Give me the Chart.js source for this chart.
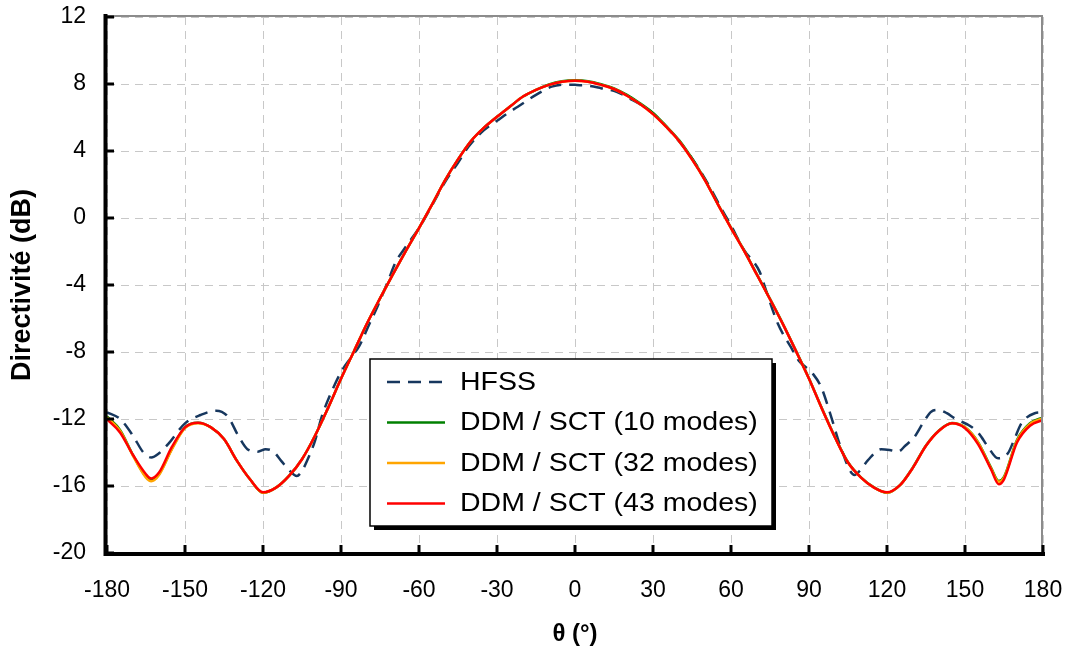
<!DOCTYPE html>
<html>
<head>
<meta charset="utf-8">
<script src="https://cdn.jsdelivr.net/npm/chart.js@4.4.1/dist/chart.umd.min.js"></script>
<style>
  html, body { margin: 0; padding: 0; background: #fff; }
  #wrap { position: relative; width: 1069px; height: 652px; }
</style>
</head>
<body>
<div id="wrap"><canvas id="chart"></canvas></div>
<script>
// angles (deg) for the DDM / SCT curves
var thetaSim = [-180, -175, -170, -165, -163, -160, -155, -150, -145, -140, -135, -130, -125, -120, -115, -110, -105, -100, -95, -90,
  -85, -80, -75, -70, -65, -60, -55, -50, -45, -40, -35, -30, -25, -20, -15, -10, -5, 0,
  5, 10, 15, 20, 25, 30, 35, 40, 45, 50, 55, 60, 65, 70, 75, 80, 85, 90,
  95, 100, 105, 110, 115, 120, 125, 130, 135, 140, 145, 150, 155, 160, 163, 165, 170, 175, 180];

var ddm10 = [-11.85, -12.65, -14.15, -15.45, -15.65, -15.3, -13.75, -12.5, -12.22, -12.5, -13.2, -14.5, -15.6, -16.4, -16.1, -15.4, -14.4, -13.0, -11.35, -9.6,
  -7.95, -6.3, -4.8, -3.35, -1.95, -0.6, 0.8, 2.25, 3.5, 4.6, 5.4, 6.05, 6.65, 7.25, 7.65, 7.97, 8.16, 8.22,
  8.17, 7.99, 7.74, 7.35, 6.85, 6.27, 5.5, 4.65, 3.55, 2.28, 0.82, -0.58, -1.93, -3.38, -4.83, -6.33, -7.93, -9.58,
  -11.38, -13.08, -14.58, -15.48, -16.08, -16.4, -15.95, -14.88, -13.58, -12.68, -12.24, -12.5, -13.38, -14.9, -15.7, -15.45, -13.25, -12.25, -11.9];

var ddm32 = [-11.9, -12.7, -14.2, -15.5, -15.72, -15.35, -13.8, -12.55, -12.25, -12.5, -13.2, -14.5, -15.6, -16.4, -16.1, -15.4, -14.4, -13.0, -11.35, -9.6,
  -7.95, -6.3, -4.8, -3.35, -1.95, -0.6, 0.8, 2.25, 3.5, 4.6, 5.4, 6.05, 6.65, 7.25, 7.65, 7.95, 8.14, 8.2,
  8.14, 7.95, 7.7, 7.3, 6.8, 6.2, 5.45, 4.6, 3.5, 2.25, 0.8, -0.6, -1.95, -3.4, -4.85, -6.35, -7.95, -9.6,
  -11.4, -13.1, -14.6, -15.5, -16.1, -16.4, -15.95, -14.9, -13.6, -12.7, -12.25, -12.5, -13.4, -14.95, -15.75, -15.5, -13.3, -12.3, -11.95];

var ddm43 = [-12.02, -12.8, -14.15, -15.3, -15.55, -15.2, -13.65, -12.5, -12.22, -12.5, -13.2, -14.5, -15.6, -16.38, -16.1, -15.4, -14.4, -13.0, -11.35, -9.6,
  -7.95, -6.3, -4.8, -3.35, -1.95, -0.6, 0.8, 2.25, 3.5, 4.6, 5.4, 6.05, 6.65, 7.25, 7.65, 7.95, 8.14, 8.2,
  8.14, 7.95, 7.7, 7.3, 6.8, 6.2, 5.45, 4.6, 3.5, 2.25, 0.8, -0.6, -1.95, -3.4, -4.85, -6.35, -7.95, -9.6,
  -11.4, -13.1, -14.6, -15.5, -16.1, -16.38, -15.95, -14.9, -13.6, -12.7, -12.26, -12.55, -13.5, -15.0, -15.9, -15.6, -13.4, -12.4, -12.06];

// HFSS reference
var thetaHfss = [-180, -175, -170, -166, -163, -160, -156.5, -150, -144, -138, -133.5, -129.5, -126, -122, -119, -116, -113, -110, -107, -105,
  -102.5, -100, -97.5, -94, -90, -86, -83, -79, -76, -72, -69, -65, -60, -55, -50, -45, -41, -35, -30, -26, -22, -15, -9, -4, 0,
  5, 10, 16, 22, 26, 30, 36, 42, 47, 52, 56, 60, 65, 71, 73, 78, 83, 86, 91.5, 94.7, 98.6, 102, 107.5, 110, 112.7,
  117.8, 121, 124.2, 127, 130.6, 134, 137, 139.6, 143, 146, 152.4, 155.5, 158.8, 162.7, 166.5, 169, 171.7, 176.8, 180];

var hfss = [-11.6, -12.0, -13.0, -14.0, -14.3, -14.05, -13.5, -12.26, -11.76, -11.5, -11.86, -13.0, -13.8, -13.95, -13.8, -13.95, -14.5, -15.05, -15.4, -15.1,
  -14.3, -13.3, -11.9, -10.5, -9.2, -8.3, -7.65, -6.3, -5.3, -3.8, -2.65, -1.7, -0.6, 0.75, 2.15, 3.3, 4.25, 5.25, 5.8, 6.25, 6.64, 7.35, 7.84, 7.96, 7.95,
  7.9, 7.75, 7.54, 7.05, 6.7, 6.25, 5.3, 4.2, 3.1, 1.8, 0.65, -0.45, -1.9, -3.2, -4.1, -6.3, -7.7, -8.5, -9.3, -10.1, -11.9, -13.6, -15.34, -15.0, -14.45,
  -13.8, -13.85, -13.95, -13.6, -13.06, -12.2, -11.56, -11.46, -11.65, -11.96, -12.46, -12.9, -13.65, -14.35, -14.05, -13.2, -12.26, -11.66, -11.6];

var seriesLabels = ["HFSS", "DDM / SCT (10 modes)", "DDM / SCT (32 modes)", "DDM / SCT (43 modes)"];
var xRange = [-180, 180];
var yRange = [-20, 12];

function pts(xs, ys) {
  return xs.map(function (x, i) { return { x: x, y: ys[i] }; });
}

var FONT = "'Liberation Sans', Arial, sans-serif";

function noPad(s) {
  s.paddingTop = 0; s.paddingBottom = 0; s.paddingLeft = 0; s.paddingRight = 0;
}

// axes drawn by hand: thick left/bottom, grey top/right, ticks pointing inward, boxed legend
var framePlugin = {
  id: 'frame',
  afterDraw: function (chart) {
    var ctx = chart.ctx, a = chart.chartArea;
    var sx = chart.scales.x, sy = chart.scales.y;
    ctx.save();

    ctx.strokeStyle = '#8c8c8c';
    ctx.lineWidth = 2;
    ctx.beginPath();
    ctx.moveTo(a.left, a.top - 1);
    ctx.lineTo(a.right - 1, a.top - 1);
    ctx.lineTo(a.right - 1, a.bottom);
    ctx.stroke();

    ctx.strokeStyle = '#000';
    ctx.lineWidth = 4;
    ctx.lineCap = 'square';
    ctx.beginPath();
    ctx.moveTo(a.left - 1.5, a.top - 1);
    ctx.lineTo(a.left - 1.5, a.bottom + 1);
    ctx.lineTo(a.right, a.bottom + 1);
    ctx.stroke();

    ctx.lineCap = 'butt';
    ctx.lineWidth = 3;
    sx.ticks.forEach(function (t) {
      var px = sx.getPixelForValue(t.value);
      ctx.beginPath();
      ctx.moveTo(px, a.bottom);
      ctx.lineTo(px, a.bottom - 8);
      ctx.stroke();
    });
    sy.ticks.forEach(function (t) {
      var py = sy.getPixelForValue(t.value);
      ctx.beginPath();
      ctx.moveTo(a.left, py);
      ctx.lineTo(a.left + 7, py);
      ctx.stroke();
    });

    // legend box
    var lx = a.left + 263, ly = a.top + 342, lw = 402, lh = 167;
    ctx.fillStyle = '#000';
    ctx.fillRect(lx + 4, ly + 4, lw, lh);
    ctx.fillStyle = '#fff';
    ctx.fillRect(lx, ly, lw, lh);
    ctx.strokeStyle = '#000';
    ctx.lineWidth = 1.5;
    ctx.strokeRect(lx, ly, lw, lh);

    ctx.font = '25px ' + FONT;
    ctx.textBaseline = 'middle';
    ctx.textAlign = 'left';
    chart.data.datasets.forEach(function (ds, i) {
      var yy = ly + 23 + i * 40.5;
      ctx.strokeStyle = ds.borderColor;
      ctx.lineWidth = 2.5;
      ctx.setLineDash(ds.borderDash || []);
      ctx.beginPath();
      ctx.moveTo(lx + 17, yy);
      ctx.lineTo(lx + 75, yy);
      ctx.stroke();
      ctx.setLineDash([]);
      ctx.fillStyle = '#000';
      // the source legend text is a little wider than plain Arial
      ctx.save();
      ctx.translate(lx + 90, yy + 1);
      ctx.scale(1.14, 1);
      ctx.fillText(ds.label, 0, 0);
      ctx.restore();
    });
    ctx.restore();
  }
};

var chart = new Chart(document.getElementById('chart'), {
  type: 'line',
  data: {
    datasets: [
      {
        label: seriesLabels[0],
        data: pts(thetaHfss, hfss),
        borderColor: '#17375e',
        borderWidth: 2.5,
        borderDash: [13, 8],
        order: 3
      },
      {
        label: seriesLabels[1],
        data: pts(thetaSim, ddm10),
        borderColor: '#008000',
        borderWidth: 2.5,
        order: 2
      },
      {
        label: seriesLabels[2],
        data: pts(thetaSim, ddm32),
        borderColor: '#ffa500',
        borderWidth: 2.5,
        order: 1
      },
      {
        label: seriesLabels[3],
        data: pts(thetaSim, ddm43),
        borderColor: '#ff0000',
        borderWidth: 2.5,
        order: 0
      }
    ]
  },
  options: {
    responsive: true,
    maintainAspectRatio: false,
    animation: false,
    layout: { padding: { left: 0, top: 17, right: 26, bottom: 0 } },
    elements: {
      point: { radius: 0 },
      line: { cubicInterpolationMode: 'monotone', fill: false }
    },
    plugins: {
      legend: { display: false },
      tooltip: { enabled: false }
    },
    scales: {
      x: {
        type: 'linear',
        min: xRange[0],
        max: xRange[1],
        afterFit: function (s) { s.height = 99; noPad(s); },
        ticks: {
          stepSize: 30,
          autoSkip: false,
          maxRotation: 0,
          color: '#000',
          padding: 24,
          font: { family: FONT, size: 23 }
        },
        grid: { color: '#c8c8c8', lineWidth: 1, drawTicks: false },
        border: { display: false, dash: [8, 6] },
        title: {
          display: true,
          text: 'θ (°)',
          color: '#000',
          padding: { top: 0, bottom: 3 },
          font: { family: FONT, size: 24, weight: 'bold' }
        }
      },
      y: {
        min: yRange[0],
        max: yRange[1],
        afterFit: function (s) { s.width = 107; noPad(s); },
        ticks: {
          stepSize: 4,
          color: '#000',
          padding: 21,
          font: { family: FONT, size: 23 }
        },
        grid: { color: '#c8c8c8', lineWidth: 1, drawTicks: false },
        border: { display: false, dash: [8, 6] },
        title: {
          display: true,
          text: 'Directivité (dB)',
          color: '#000',
          padding: { top: 6, bottom: 0 },
          font: { family: FONT, size: 27, weight: 'bold' }
        }
      }
    }
  },
  plugins: [framePlugin]
});
</script>
</body>
</html>
